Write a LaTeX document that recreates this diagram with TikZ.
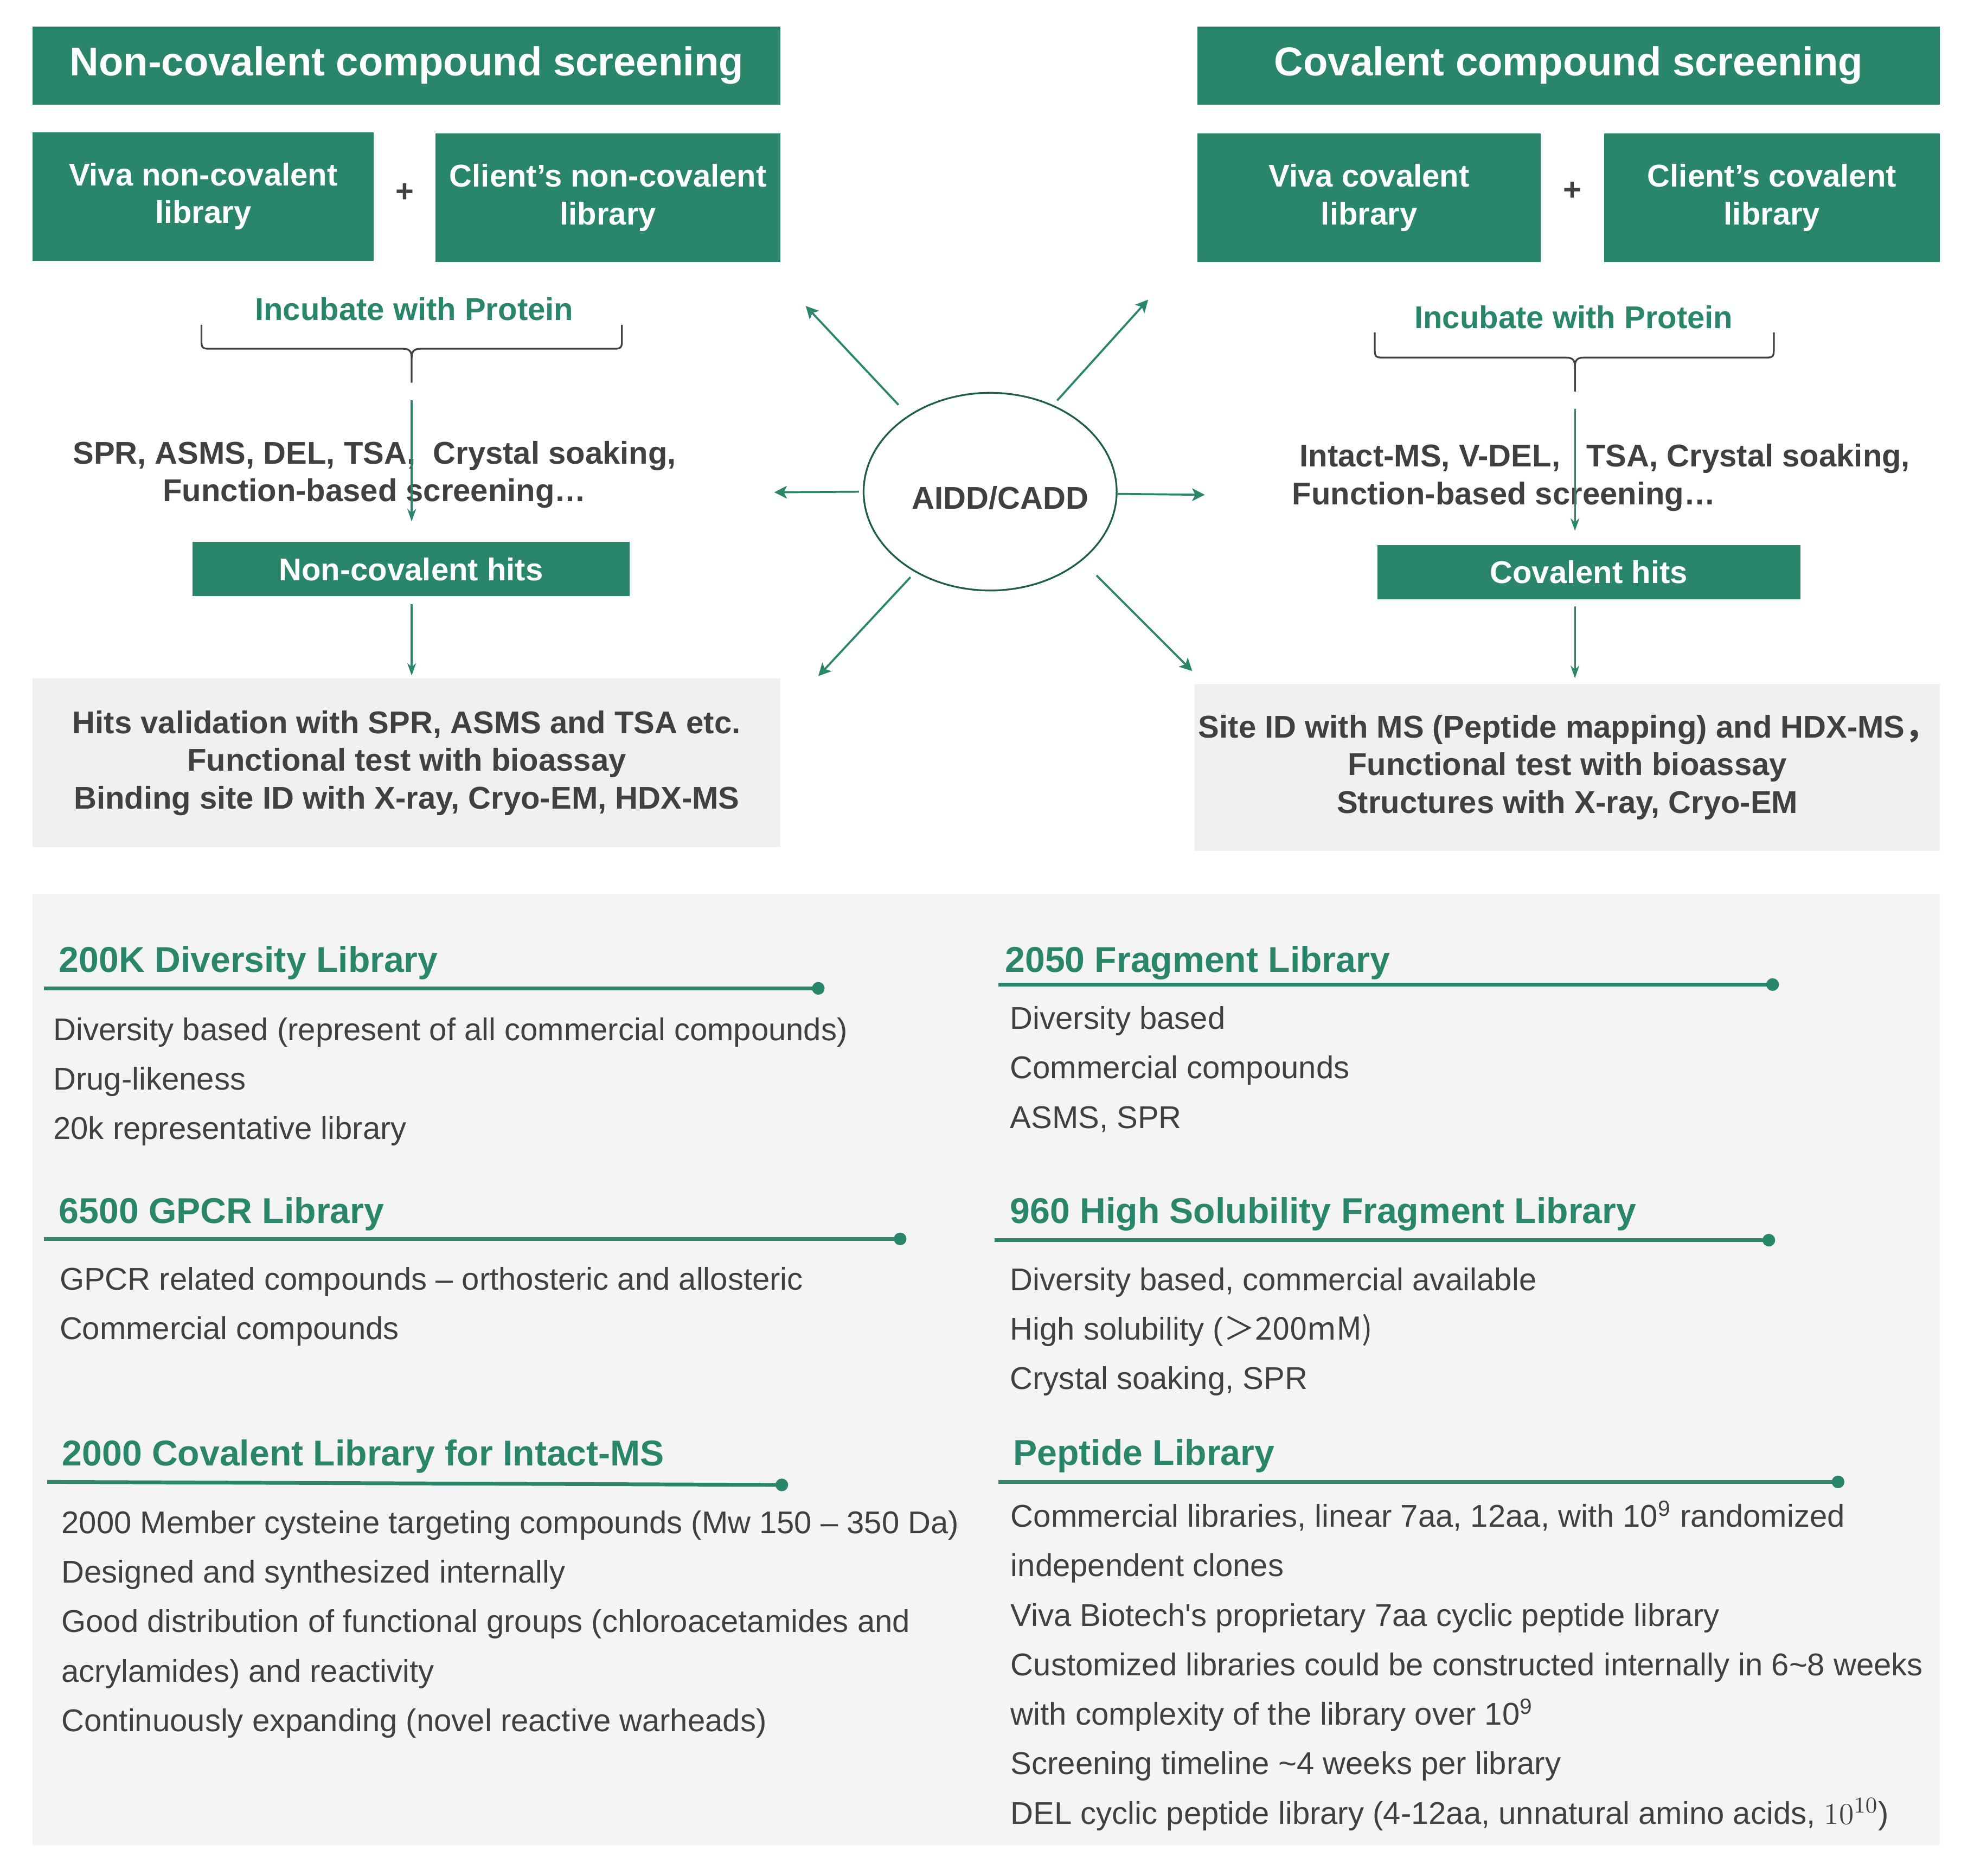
\documentclass[tikz,border=0pt]{standalone}
\usepackage{fontspec}
\setmainfont{Liberation Sans}
\newfontfamily\cjk{Noto Sans CJK SC}
\usetikzlibrary{shapes.geometric,arrows.meta}
\definecolor{vgreen}{HTML}{2A866B}
\definecolor{vdark}{HTML}{404040}
\definecolor{vring}{HTML}{1E5E48}
\definecolor{vbox}{HTML}{F0F0F0}
\definecolor{vpanel}{HTML}{F4F4F4}
\begin{document}
\begin{tikzpicture}
      [x=0.5pt,y=-0.5pt,
       greenbox/.style={fill=vgreen,text=white,font=\fontsize{12.5}{15}\selectfont\bfseries,align=center,inner sep=0pt},
       titlebox/.style={greenbox,font=\fontsize{16}{19}\selectfont\bfseries,minimum height=31pt},
       resultbox/.style={fill=vbox,text=vdark,font=\fontsize{12.5}{15}\selectfont\bfseries,align=center,inner sep=0pt},
       method/.style={text=vdark,font=\fontsize{12.5}{15}\selectfont\bfseries,inner sep=0pt},
       incub/.style={text=vgreen,font=\fontsize{12.5}{15}\selectfont\bfseries,inner sep=0pt,anchor=base},
       flow/.style={draw=vgreen,line width=0.7pt,-{Stealth[length=5pt,width=3.5pt]}},
       fan/.style={draw=vgreen,line width=0.8pt,-{Stealth[length=5pt,width=5pt,inset=1.2pt]}},
       bracepath/.style={draw=vdark,line width=0.7pt},
       libhead/.style={text=vgreen,font=\fontsize{14.25}{17}\selectfont\bfseries,anchor=base west,inner sep=0pt},
       libbody/.style={text=vdark,font=\fontsize{12.5}{19.65}\selectfont,align=left,anchor=north west,inner sep=0pt},
       librule/.style={draw=vgreen,line width=1.5pt,-{Circle[length=5pt]}}]
      \useasboundingbox (0,0) rectangle (1568,1490);
      \fill[white] (0,0) rectangle (1568,1490);
      \node[titlebox,minimum width=297pt] (ncTitle) at (323,52) {Non-covalent compound screening};
      \node[titlebox,minimum width=295pt] (cTitle) at (1246,52) {Covalent compound screening};
      \node[greenbox,minimum width=135.5pt,minimum height=51pt] (ncViva) at (161.5,156) {Viva non-covalent\\library};
      \node[greenbox,minimum width=137pt,minimum height=51pt] (ncClient) at (483,157) {Client’s non-covalent\\library};
      \node[method] (ncPlus) at (321.5,153) {+};
      \node[greenbox,minimum width=136.5pt,minimum height=51pt] (cViva) at (1087.5,157) {Viva covalent\\library};
      \node[greenbox,minimum width=133.5pt,minimum height=51pt] (cClient) at (1407.5,157) {Client’s covalent\\library};
      \node[method] (cPlus) at (1249,152) {+};
      \node[incub] (ncIncub) at (329,254.5) {Incubate with Protein};
      \node[incub] (cIncub) at (1250,261) {Incubate with Protein};
      \coordinate (ncTip) at (327,304);
      \coordinate (cTip) at (1251,311);
      \draw[bracepath] (160,258) -- (160,271) .. controls (160,276) and (161,277) .. (166,277) -- (320,277)
        .. controls (325,277) and (327,279) .. (327,284) -- (ncTip);
      \draw[bracepath] (494,258) -- (494,271) .. controls (494,276) and (493,277) .. (488,277) -- (334,277)
        .. controls (329,277) and (327,279) .. (327,284);
      \draw[bracepath] (1092,264) -- (1092,278) .. controls (1092,283) and (1093,284) .. (1098,284) -- (1244,284)
        .. controls (1249,284) and (1251,286) .. (1251,291) -- (cTip);
      \draw[bracepath] (1409,264) -- (1409,278) .. controls (1409,283) and (1408,284) .. (1403,284) -- (1258,284)
        .. controls (1253,284) and (1251,286) .. (1251,291);
      \node[method,align=center] (ncMethods) at (297.5,377) {SPR, ASMS, DEL, TSA,\ \ Crystal soaking,\\Function-based screening…};
      \node[method,align=left,anchor=west] (cMethods) at (1026,379.2) {\hspace*{3pt}Intact-MS, V-DEL,\ \ \ TSA, Crystal soaking,\\Function-based screening…};
      \node[greenbox,minimum width=173.5pt,minimum height=21.5pt] (ncHits) at (326.5,452) {Non-covalent hits};
      \node[greenbox,minimum width=168pt,minimum height=21.5pt] (cHits) at (1262,454.5) {Covalent hits};
      \node[resultbox,minimum width=297pt,minimum height=67pt] (ncResult) at (323,606) {Hits validation with SPR, ASMS and TSA etc.\\Functional test with bioassay\\Binding site ID with X-ray, Cryo-EM, HDX-MS};
      \node[resultbox,minimum width=296pt,minimum height=66.5pt] (cResult) at (1245,609.5) {Site ID with MS (Peptide mapping) and HDX-MS\cjk{，}\\Functional test with bioassay\\Structures with X-ray, Cryo-EM};
      \draw[flow,shorten <=7pt,shorten >=8pt] (ncTip) -- (ncTip |- ncHits.north);
      \draw[flow,shorten <=3pt,shorten >=1pt] (ncTip |- ncHits.south) -- (ncTip |- ncResult.north);
      \draw[flow,shorten <=7pt,shorten >=5.5pt] (cTip) -- (cTip |- cHits.north);
      \draw[flow,shorten <=2.5pt,shorten >=2pt] (cTip |- cHits.south) -- (cTip |- cResult.north);
      \node[draw=vring,line width=0.7pt,ellipse,minimum width=100.5pt,minimum height=78.5pt,inner sep=0pt] (aidd) at (786.5,390.5) {};
      \node[method,anchor=base] (aiddText) at (794.5,404.3) {AIDD/CADD};
      \coordinate (fan1) at (640,243);
      \coordinate (fan2) at (912,238);
      \coordinate (fan3) at (615,391);
      \coordinate (fan4) at (957,393);
      \coordinate (fan5) at (650,537);
      \coordinate (fan6) at (947,533);
      \draw[fan,shorten <=5.7pt] (aidd.137.4) -- (fan1);
      \draw[fan,shorten <=2.4pt] (aidd.54.6) -- (fan2);
      \draw[fan,shorten <=1.5pt] (aidd.180) -- (fan3);
      \draw[fan] (aidd.-1.4) -- (fan4);
      \draw[fan,shorten <=2.7pt] (aidd.227.2) -- (fan5);
      \draw[fan,shorten <=8.2pt] (aidd.323.7) -- (fan6);
      \fill[vpanel] (26,710) rectangle (1541,1466);
      \node[libhead] (divHead) at (46.5,772) {200K Diversity Library};
      \draw[librule] (35,785) -- (655,785);
      \node[libbody] (divBody) at (42,798.5) {\strut Diversity based (represent of all commercial compounds)\\Drug-likeness\\20k representative library};
      \node[libhead] (gpcrHead) at (46.5,971.5) {6500 GPCR Library};
      \draw[librule] (35,984) -- (720,984);
      \node[libbody] (gpcrBody) at (47,996.5) {\strut GPCR related compounds -- orthosteric and allosteric\\Commercial compounds};
      \node[libhead] (covHead) at (49,1164) {2000 Covalent Library for Intact-MS};
      \draw[librule] (37.5,1177) -- (626,1179.4);
      \node[libbody] (covBody) at (48.5,1190) {\strut 2000 Member cysteine targeting compounds (Mw 150 -- 350 Da)\\Designed and synthesized internally\\Good distribution of functional groups (chloroacetamides and\\acrylamides) and reactivity\\Continuously expanding (novel reactive warheads)};
      \node[libhead] (fragHead) at (798,772) {2050 Fragment Library};
      \draw[librule] (793,782) -- (1413,782);
      \node[libbody] (fragBody) at (802,789.5) {\strut Diversity based\\Commercial compounds\\ASMS, SPR};
      \node[libhead] (solHead) at (802,971.5) {960 High Solubility Fragment Library};
      \draw[librule] (790,985) -- (1410,985);
      \node[libbody] (solBody) at (802,997) {\strut Diversity based, commercial available\\High solubility (\cjk{＞}200mM)\\Crystal soaking, SPR};
      \node[libhead] (pepHead) at (804.5,1163.5) {Peptide Library};
      \draw[librule] (793,1177) -- (1465,1177);
      \node[libbody] (pepBody) at (802.5,1185) {\strut Commercial libraries, linear 7aa, 12aa, with 10\textsuperscript{9} randomized\\independent clones\\Viva Biotech\textquotesingle s proprietary 7aa cyclic peptide library\\Customized libraries could be constructed internally in 6\textasciitilde 8 weeks\\with complexity of the library over 10\textsuperscript{9}\\Screening timeline \textasciitilde 4 weeks per library\\DEL cyclic peptide library (4-12aa, unnatural amino acids, $10^{10}$)};
    \end{tikzpicture}
\end{document}
